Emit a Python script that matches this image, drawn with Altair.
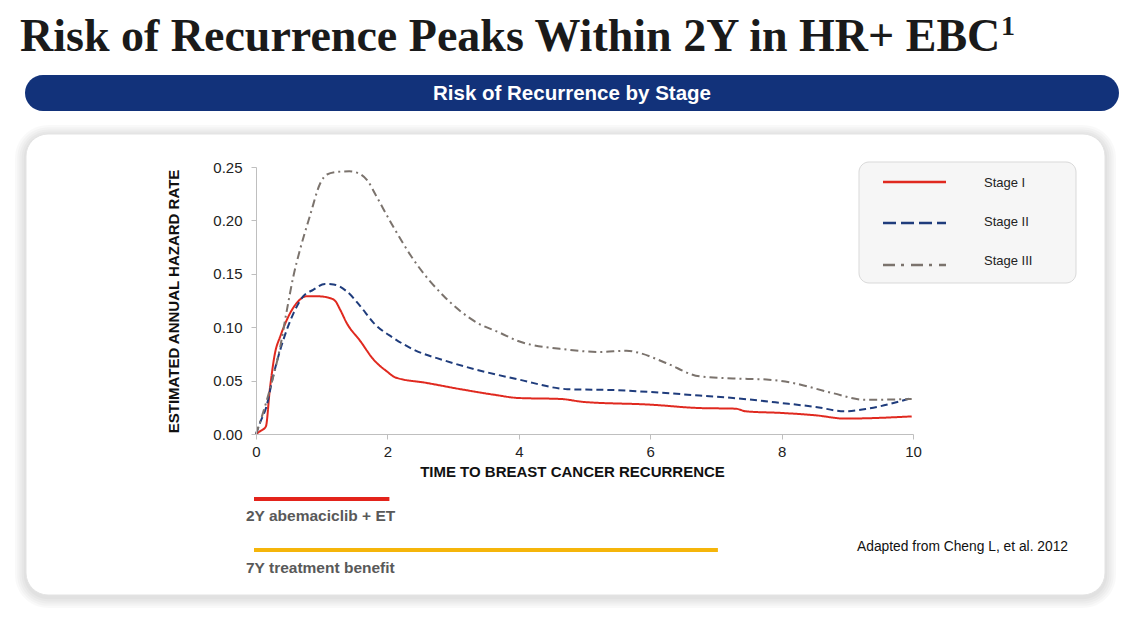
import altair as alt
import pandas as pd

# ---------------- data ----------------
stages = ["Stage I", "Stage II", "Stage III"]

stage1_x = [0.0, 0.06, 0.15, 0.21, 0.29, 0.37, 0.47, 0.62, 0.77, 0.93, 1.08, 1.2, 1.28, 1.38, 1.59, 1.79, 1.99, 2.12,
            2.6, 3.11, 3.62, 4.0, 4.64, 4.99, 6.0, 6.75, 7.3, 7.46, 8.0, 8.52, 8.97, 9.28, 9.98]
stage1_y = [0.0, 0.0025, 0.007, 0.0415, 0.076, 0.0915, 0.107, 0.1227, 0.129, 0.129, 0.128, 0.125, 0.1165, 0.104,
            0.0868, 0.0696, 0.0587, 0.053, 0.0478, 0.042, 0.0368, 0.0337, 0.0328, 0.030, 0.0275, 0.0243, 0.0237,
            0.0212, 0.0197, 0.0175, 0.0144, 0.0147, 0.0165]

stage2_x = [0.0, 0.06, 0.16, 0.26, 0.37, 0.47, 0.57, 0.72, 0.87, 1.05, 1.18, 1.38, 1.59, 1.79, 2.09, 2.4, 2.86, 3.37,
            4.0, 4.74, 5.5, 6.0, 6.75, 7.26, 8.0, 8.52, 8.97, 9.28, 9.98]
stage2_y = [0.0, 0.0103, 0.026, 0.054, 0.079, 0.0977, 0.113, 0.129, 0.135, 0.1405, 0.14, 0.1336, 0.1195, 0.104, 0.090,
            0.079, 0.069, 0.060, 0.051, 0.042, 0.041, 0.0393, 0.036, 0.0337, 0.029, 0.0253, 0.0212, 0.0234, 0.0337]

stage3_x = [0.0, 0.09, 0.21, 0.37, 0.47, 0.57, 0.67, 0.82, 0.98, 1.08, 1.25, 1.42, 1.58, 1.7, 1.82, 2.09, 2.4, 2.86,
            3.37, 3.72, 4.0, 4.74, 5.24, 5.64, 5.84, 6.24, 6.75, 7.26, 7.77, 8.17, 8.77, 9.28, 9.98]
stage3_y = [0.0, 0.0165, 0.0415, 0.082, 0.116, 0.148, 0.1726, 0.204, 0.235, 0.243, 0.2455, 0.246, 0.2435, 0.237,
            0.224, 0.194, 0.163, 0.129, 0.104, 0.0946, 0.0868, 0.079, 0.0768, 0.078, 0.0758, 0.0665, 0.054, 0.052,
            0.051, 0.0478, 0.0384, 0.032, 0.0328]

y_ticks = [0.0, 0.05, 0.10, 0.15, 0.20, 0.25]
x_ticks = [0, 2, 4, 6, 8, 10]

treat_labels = ["2Y abemaciclib + ET", "7Y treatment benefit"]
treat_start = [0, 0]
treat_end = [2, 7]

title_text = "Risk of Recurrence Peaks Within 2Y in HR+ EBC"
title_sup = "1"
banner_text = "Risk of Recurrence by Stage"
x_title = "TIME TO BREAST CANCER RECURRENCE"
y_title = "ESTIMATED ANNUAL HAZARD RATE"
source_text = "Adapted from Cheng L, et al. 2012"

# ---------------- styles ----------------
SANS = "Liberation Sans, Arial, sans-serif"
SERIF = "Liberation Serif, Times New Roman, serif"
colors = ["#e0291f", "#1f3c7c", "#7b736d"]
dashes = [[1, 0], [7, 4], [8, 4, 2, 4]]
legend_dashes = [[1, 0], [13, 5], [12, 6, 3, 7]]

W, H = 657, 267

rows = []
for s, xs, ys in zip(stages, [stage1_x, stage2_x, stage3_x], [stage1_y, stage2_y, stage3_y]):
    for a, b in zip(xs, ys):
        rows.append({"stage": s, "time": a, "rate": b})
curves = pd.DataFrame(rows)

one = pd.DataFrame({"k": [0]})

x_scale = alt.Scale(domain=[0, 10], nice=False, zero=False)
y_scale = alt.Scale(domain=[0, 0.25], nice=False)

x_axis = alt.Axis(values=x_ticks, title=x_title, format="d", zindex=1, labelFlush=False,
                  domainColor="#bfbfbf", tickColor="#bfbfbf", tickSize=5, labelPadding=5,
                  labelFont=SANS, labelFontSize=15, labelColor="#222222",
                  titleFont=SANS, titleFontSize=15, titleFontWeight="bold", titleColor="#111111",
                  titleX=316, titleY=37, titleAlign="center", titleBaseline="middle", grid=False)
y_axis = alt.Axis(values=y_ticks, title=y_title, format=".2f", zindex=1, labelFlush=False,
                  domainColor="#bfbfbf", tickColor="#bfbfbf", tickSize=5, labelPadding=9,
                  labelFont=SANS, labelFontSize=15, labelColor="#222222",
                  titleFont=SANS, titleFontSize=15, titleFontWeight="bold", titleColor="#111111",
                  titleX=-83, titleY=134, titleAngle=270, titleAlign="center", titleBaseline="middle",
                  grid=False)


def vrect(x1, x2, y1, y2, **kw):
    return alt.Chart(one).mark_rect(**kw).encode(
        x=alt.value(x1), x2=alt.value(x2), y=alt.value(y1), y2=alt.value(y2))


def vtext(txt, x, y, **kw):
    return alt.Chart(pd.DataFrame({"t": [txt]})).mark_text(**kw).encode(
        x=alt.value(x), y=alt.value(y), text="t:N")


layers = []

# card shadow
card = (-230, 849, -33, 428)
for k in range(1, 6):
    e = 2.2 * k
    layers.append(vrect(card[0] - e, card[1] + e, card[2] - e + 2, card[3] + e + 2,
                        cornerRadius=22 + e, fill="#000000", opacity=0.022))
layers.append(vrect(*card, cornerRadius=22, fill="white", stroke="#e3e3e3", strokeWidth=1))

# banner
layers.append(vrect(-231, 863, -92, -56, cornerRadius=18, fill="#12327a"))
layers.append(vtext(banner_text, 316, -73, font=SANS, fontSize=20.5, fontWeight="bold", color="white",
                    align="center", baseline="middle"))

# title
layers.append(vtext(title_text, -236, -116, font=SERIF, fontSize=46, fontWeight="bold", color="#1a1a1a",
                    align="left", baseline="alphabetic"))
layers.append(vtext(title_sup, 745, -132, font=SERIF, fontSize=28, fontWeight="bold", color="#1a1a1a",
                    align="left", baseline="alphabetic"))

# curves
lines = alt.Chart(curves).mark_line(strokeWidth=2, interpolate="monotone").encode(
    x=alt.X("time:Q", scale=x_scale, axis=x_axis),
    y=alt.Y("rate:Q", scale=y_scale, axis=y_axis),
    color=alt.Color("stage:N", scale=alt.Scale(domain=stages, range=colors), legend=None),
    strokeDash=alt.StrokeDash("stage:N", scale=alt.Scale(domain=stages, range=dashes), legend=None),
    detail="stage:N",
)
layers.append(lines)

# legend box
layers.append(vrect(603, 820, -5, 116, cornerRadius=10, fill="#f6f6f6", stroke="#d9d9d9", strokeWidth=1))
leg_y = [15, 56, 98]
leg_ty = [16, 55, 94]
for s, c, d, ly, ty in zip(stages, colors, legend_dashes, leg_y, leg_ty):
    layers.append(alt.Chart(one).mark_rule(color=c, strokeWidth=2.5, strokeDash=d).encode(
        x=alt.value(627), x2=alt.value(690), y=alt.value(ly)))
    layers.append(vtext(s, 728, ty, font=SANS, fontSize=13, color="#222222", align="left", baseline="middle"))

# treatment bars
treat = pd.DataFrame({"label": treat_labels, "start": treat_start, "end": treat_end})
bar_y = [332, 383]
bar_col = ["#e3231b", "#f5b50a"]
lab_y = [349, 401]
for i in range(2):
    layers.append(alt.Chart(treat.iloc[[i]]).mark_rule(strokeWidth=4, color=bar_col[i], strokeCap="square").encode(
        x=alt.X("start:Q", scale=x_scale, axis=x_axis),
        x2="end:Q",
        y=alt.value(bar_y[i])))
    layers.append(alt.Chart(treat.iloc[[i]]).mark_text(font=SANS, fontSize=15.5, fontWeight="bold",
                                                      color="#595959", align="left", baseline="middle").encode(
        x=alt.value(-10), y=alt.value(lab_y[i]), text="label:N"))

layers.append(vtext(source_text, 812, 380, font=SANS, fontSize=13.8, color="#111111", align="right",
                    baseline="middle"))

chart = alt.layer(*layers).properties(
    width=W, height=H,
    padding={"left": 248, "top": 159, "right": 221, "bottom": 180},
    autosize=alt.AutoSizeParams(type="none"),
    background="white",
).configure_view(stroke=None)

chart.save("out.html", embed_options={"renderer": "svg", "actions": False})
